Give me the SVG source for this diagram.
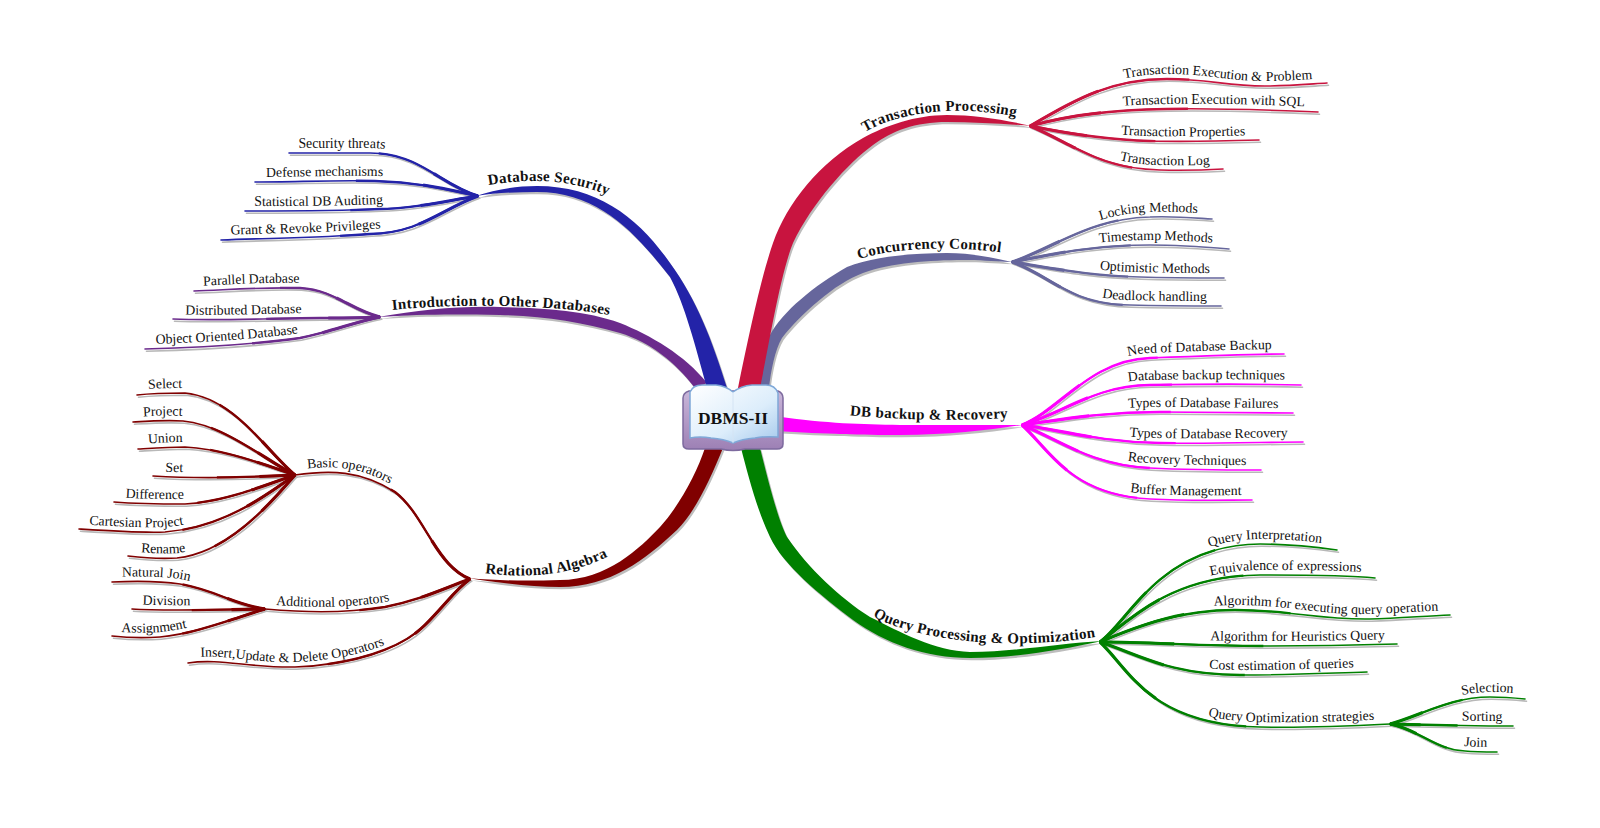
<svg xmlns="http://www.w3.org/2000/svg" width="1600" height="828" viewBox="0 0 1600 828">
<style>
text{font-family:"Liberation Serif","Times New Roman",serif;fill:#111}
.s{font-size:13.8px}
.m{font-size:15px;font-weight:bold;letter-spacing:.3px}
.p{fill:none}
.w1{stroke-width:1.6;stroke-linecap:round}
.w2r{stroke-width:2.3;stroke-dasharray:55 45}
.w3r{stroke-width:3.1;stroke-dasharray:25 75}
.w2l{stroke-width:2.3;stroke-dasharray:55 45;stroke-dashoffset:-45}
.w3l{stroke-width:3.1;stroke-dasharray:25 75;stroke-dashoffset:-75}
</style>
<defs>
<linearGradient id="pg" x1="0" y1="0" x2="1" y2="1"><stop offset="0" stop-color="#ffffff"/><stop offset=".6" stop-color="#dcedfb"/><stop offset="1" stop-color="#a6c9ec"/></linearGradient>
<linearGradient id="cv" x1="0" y1="0" x2="0" y2="1"><stop offset="0" stop-color="#c9b6d9"/><stop offset="1" stop-color="#9c7fb4"/></linearGradient>
<path id="m1" d="M738 388C752 320 762 275 773 243C787 203 820 162 863 138C885 126 915 115 947 115C975 115 1005 120 1032 126C1005 124 975 122 947 122C915 122 892 131 873 145C848 163 812 203 793 243C780 275 768 350 760 388Z"/>
<path id="m2" d="M727 388C712 340 697 300 670 263C640 220 600 186 537 186C515 186 495 190 476 196C495 193 515 192 537 192C600 192 637 235 670 277C685 305 695 345 707 388Z"/>
<path id="m3" d="M707 383C685 355 650 335 620 323C585 310 540 308 500 307C455 306 420 310 378 317C420 314 455 314 500 315C545 316 580 322 620 333C650 342 675 362 695 388Z"/>
<path id="m4" d="M758 388C760 370 762 352 770 335C782 312 815 285 847 267C875 256 915 253 947 253C970 253 990 257 1012 262C990 261 980 260 963 260C930 260 890 263 863 273C835 283 800 315 782 338C775 350 771 370 769 388Z"/>
<path id="m5" d="M775 416C830 424 860 424 900 425C950 425 990 425 1022 425C990 430 950 435 900 435C860 435 830 434 775 431Z"/>
<path id="m6" d="M741 448C748 475 757 510 770 537C783 565 820 595 853 620C885 643 925 658 970 658C1015 658 1060 650 1102 641C1060 643 1015 652 970 652C935 651 900 632 870 617C840 598 808 568 787 537C778 520 768 480 760 448Z"/>
<path id="m7" d="M705 448C697 472 680 505 660 527C640 548 607 580 560 580C530 581 500 581 468 578C500 583 530 587 560 587C610 587 645 560 677 530C695 512 710 480 723 448Z"/>
<g id="bRed">
<path id="t1" pathLength="100" d="M1030 126C1075 100 1110 79 1167 79C1210 79 1225 86 1265 86C1290 86 1310 84 1327 83"/>
<path id="t2" pathLength="100" d="M1030 126C1070 115 1110 110 1167 109C1220 108 1270 110 1318 112"/>
<path id="t3" pathLength="100" d="M1030 126C1075 135 1110 140 1150 141C1185 142 1225 141 1259 140"/>
<path id="t4" pathLength="100" d="M1030 126C1075 145 1100 169 1160 170C1185 170.500 1205 170 1223 169"/>
</g>
<g id="bSlate">
<path id="c1" pathLength="100" d="M1012 262C1050 250 1090 218 1150 217C1175 216 1195 218 1212 219"/>
<path id="c2" pathLength="100" d="M1012 262C1050 255 1090 245 1150 245C1180 245 1205 247 1229 249"/>
<path id="c3" pathLength="100" d="M1012 262C1050 268 1090 276 1140 277C1170 278 1200 278 1224 278"/>
<path id="c4" pathLength="100" d="M1012 262C1050 275 1070 305 1130 305C1165 306 1195 306 1221 306"/>
</g>
<g id="bMag">
<path id="d1" pathLength="100" d="M1022 425C1060 410 1090 360 1150 358C1200 356 1250 354 1284 354"/>
<path id="d2" pathLength="100" d="M1022 425C1060 415 1095 385 1150 385C1200 384 1260 384 1301 385"/>
<path id="d3" pathLength="100" d="M1022 425C1060 420 1100 412 1160 412C1210 412 1260 413 1293 413"/>
<path id="d4" pathLength="100" d="M1022 425C1060 430 1100 442 1160 443C1210 444 1270 442 1303 442"/>
<path id="d5" pathLength="100" d="M1022 425C1060 440 1090 465 1150 468C1190 470 1230 470 1261 470"/>
<path id="d6" pathLength="100" d="M1022 425C1050 450 1070 495 1150 499C1190 501 1225 500 1252 500"/>
</g>
<g id="bGreen">
<path id="q1" pathLength="100" d="M1100 642C1130 620 1160 545 1260 544C1290 544 1315 547 1337 550"/>
<path id="q2" pathLength="100" d="M1100 642C1130 620 1170 576 1260 575C1300 575 1345 575 1375 578"/>
<path id="q3" pathLength="100" d="M1100 642C1140 625 1180 610 1235 610C1290 610 1320 620 1370 619C1400 618 1425 616 1450 615"/>
<path id="q4" pathLength="100" d="M1100 642C1150 642 1200 646 1260 646C1310 646 1360 645 1397 644"/>
<path id="q5" pathLength="100" d="M1100 642C1140 655 1170 675 1240 675C1290 675 1330 673 1367 672"/>
<path id="q6" pathLength="100" d="M1100 642C1130 670 1150 725 1260 727C1300 728 1350 726 1390 724"/>
<path id="s1" pathLength="100" d="M1390 724C1420 716 1450 697 1490 697C1505 697 1515 698 1525 699"/>
<path id="s2" pathLength="100" d="M1390 724C1430 725 1470 726 1513 726"/>
<path id="s3" pathLength="100" d="M1390 724C1420 730 1435 750 1465 751C1475 752 1487 752 1497 752"/>
</g>
<g id="bBlue">
<path id="e1" pathLength="100" d="M289 153C315 153 340 153 370 153C420 153 440 185 478 196"/>
<path id="e2" pathLength="100" d="M255 182C295 182 335 180 375 181C420 182 450 190 478 196"/>
<path id="e3" pathLength="100" d="M245 211C290 211 335 211 380 209C420 208 450 200 478 196"/>
<path id="e4" pathLength="100" d="M221 240C270 238 320 238 370 234C420 233 440 210 478 196"/>
</g>
<g id="bPurple">
<path id="i1" pathLength="100" d="M194 291C225 290 260 287 300 288C335 290 350 310 380 317"/>
<path id="i2" pathLength="100" d="M173 319C220 321 280 318 320 318C345 318 360 318 380 317"/>
<path id="i3" pathLength="100" d="M145 349C190 348 250 345 300 338C330 332 355 322 380 317"/>
</g>
<g id="bDark">
<path id="r1" pathLength="100" d="M295 475C330 470 360 470 395 492C425 515 435 565 470 579"/>
<path id="r2" pathLength="100" d="M265 609C300 612 340 614 385 607C420 600 440 590 470 579"/>
<path id="r3" pathLength="100" d="M188 663C220 658 250 668 295 667C350 665 400 650 425 625C445 605 455 590 470 579"/>
<path id="a1" pathLength="100" d="M137 395C155 393 170 393 185 393C235 398 265 450 295 475"/>
<path id="a2" pathLength="100" d="M133 422C150 421 165 420 183 421C225 425 265 460 295 475"/>
<path id="a3" pathLength="100" d="M138 449C155 448 170 447 185 447C225 449 265 465 295 475"/>
<path id="a4" pathLength="100" d="M153 476C185 478 240 478 295 475"/>
<path id="a5" pathLength="100" d="M114 502C140 504 160 504 185 504C225 502 265 485 295 475"/>
<path id="a6" pathLength="100" d="M79 529C110 531 140 533 165 532C220 528 260 500 295 475"/>
<path id="a7" pathLength="100" d="M128 556C145 558 160 559 177 558C225 553 265 510 295 475"/>
<path id="b1" pathLength="100" d="M112 582C135 581 160 581 180 584C215 590 235 605 265 609"/>
<path id="b2" pathLength="100" d="M132 609C160 611 210 610 265 609"/>
<path id="b3" pathLength="100" d="M112 636C130 638 145 638 160 637C195 634 235 618 265 609"/>
</g>
<path id="lm1" d="M860 135C890 115 950 102 1022 118"/>
<path id="lm2" d="M484 186C525 178 570 178 612 197"/>
<path id="lm3" d="M392 310C450 304 540 303 610 315"/>
<path id="lm4" d="M855 261C885 248 950 245 1005 253"/>
<path id="lm5" d="M848 415C900 420 960 421 1010 418"/>
<path id="lm6" d="M873 616C910 638 1000 652 1096 637"/>
<path id="lm7" d="M484 573C530 579 570 575 609 556"/>
</defs>

<g id="connectors">
<g id="shadows" transform="translate(1.500 2.200)">
<g fill="#bdbdbd"><use href="#m1"/><use href="#m2"/><use href="#m3"/><use href="#m4"/><use href="#m5"/><use href="#m6"/><use href="#m7"/></g>
<g class="p w1" stroke="#b8b8b8"><use href="#bRed"/><use href="#bSlate"/><use href="#bMag"/><use href="#bGreen"/><use href="#bBlue"/><use href="#bPurple"/><use href="#bDark"/></g>
</g>
<g class="p" stroke="#c8143f"><use href="#bRed" class="w1"/><use href="#bRed" class="w2r"/><use href="#bRed" class="w3r"/></g>
<g class="p" stroke="#66669c"><use href="#bSlate" class="w1"/><use href="#bSlate" class="w2r"/><use href="#bSlate" class="w3r"/></g>
<g class="p" stroke="#ff00ff"><use href="#bMag" class="w1"/><use href="#bMag" class="w2r"/><use href="#bMag" class="w3r"/></g>
<g class="p" stroke="#008000"><use href="#bGreen" class="w1"/><use href="#bGreen" class="w2r"/><use href="#bGreen" class="w3r"/></g>
<g class="p" stroke="#2323a8"><use href="#bBlue" class="w1"/><use href="#bBlue" class="w2l"/><use href="#bBlue" class="w3l"/></g>
<g class="p" stroke="#6b2a8c"><use href="#bPurple" class="w1"/><use href="#bPurple" class="w2l"/><use href="#bPurple" class="w3l"/></g>
<g class="p" stroke="#800000"><use href="#bDark" class="w1"/><use href="#bDark" class="w2l"/><use href="#bDark" class="w3l"/></g>
<use href="#m3" fill="#6b2a8c"/>
<use href="#m2" fill="#2323a8"/>
<use href="#m4" fill="#66669c"/>
<use href="#m1" fill="#c8143f"/>
<use href="#m5" fill="#ff00ff"/>
<use href="#m6" fill="#008000"/>
<use href="#m7" fill="#800000"/>
</g>

<g id="n-root">
<path d="M683 398Q683 393 689 391L778 391Q783 393 783 398L783 444Q783 449 777 449L745 449Q733 452 721 449L689 449Q683 449 683 444Z" fill="url(#cv)" stroke="#7d6a9e" stroke-width="1.500"/>
<path d="M690 392Q693 385 702 385L716 385Q726 386 733 392Q741 386 752 385L766 385Q775 385 778 393L778 437Q765 436 755 438Q742 439 733 443Q724 439 711 438Q700 436 690 438Z" fill="url(#pg)" stroke="#7fa8d8" stroke-width="1.500"/>
<path d="M733 392L733 443" stroke="#d4e4f4" stroke-width="1"/>
<text x="733" y="424" text-anchor="middle" style="font-size:17.500px;font-weight:bold">DBMS-II</text>
</g>

<g id="n-transaction"><text class="m" text-anchor="middle"><textPath href="#lm1" startOffset="50%">Transaction Processing</textPath></text></g>
<g id="n-security"><text class="m" text-anchor="middle"><textPath href="#lm2" startOffset="50%">Database Security</textPath></text></g>
<g id="n-intro"><text class="m" text-anchor="middle"><textPath href="#lm3" startOffset="50%">Introduction to Other Databases</textPath></text></g>
<g id="n-concurrency"><text class="m" text-anchor="middle"><textPath href="#lm4" startOffset="50%">Concurrency Control</textPath></text></g>
<g id="n-backup"><text class="m" text-anchor="middle"><textPath href="#lm5" startOffset="50%">DB backup &amp; Recovery</textPath></text></g>
<g id="n-query"><text class="m" text-anchor="middle"><textPath href="#lm6" startOffset="50%">Query Processing &amp; Optimization</textPath></text></g>
<g id="n-relational"><text class="m" text-anchor="middle"><textPath href="#lm7" startOffset="50%">Relational Algebra</textPath></text></g>

<g class="s" text-anchor="middle">
<g id="n-t1"><text transform="translate(0 -5)"><textPath href="#t1" startOffset="64.500%">Transaction Execution &amp; Problem</textPath></text></g>
<g id="n-t2"><text transform="translate(0 -5)"><textPath href="#t2" startOffset="64%">Transaction Execution with SQL</textPath></text></g>
<g id="n-t3"><text transform="translate(0 -5)"><textPath href="#t3" startOffset="67%">Transaction Properties</textPath></text></g>
<g id="n-t4"><text transform="translate(0 -5)"><textPath href="#t4" startOffset="71%">Transaction Log</textPath></text></g>
<g id="n-c1"><text transform="translate(0 -5)"><textPath href="#c1" startOffset="69.500%">Locking Methods</textPath></text></g>
<g id="n-c2"><text transform="translate(0 -5)"><textPath href="#c2" startOffset="66.500%">Timestamp Methods</textPath></text></g>
<g id="n-c3"><text transform="translate(0 -5)"><textPath href="#c3" startOffset="67.500%">Optimistic Methods</textPath></text></g>
<g id="n-c4"><text transform="translate(0 -5)"><textPath href="#c4" startOffset="69.500%">Deadlock handling</textPath></text></g>
<g id="n-d1"><text transform="translate(0 -5)"><textPath href="#d1" startOffset="70%">Need of Database Backup</textPath></text></g>
<g id="n-d2"><text transform="translate(0 -5)"><textPath href="#d2" startOffset="67%">Database backup techniques</textPath></text></g>
<g id="n-d3"><text transform="translate(0 -5)"><textPath href="#d3" startOffset="67%">Types of Database Failures</textPath></text></g>
<g id="n-d4"><text transform="translate(0 -5)"><textPath href="#d4" startOffset="66.500%">Types of Database Recovery</textPath></text></g>
<g id="n-d5"><text transform="translate(0 -5)"><textPath href="#d5" startOffset="70%">Recovery Techniques</textPath></text></g>
<g id="n-d6"><text transform="translate(0 -5)"><textPath href="#d6" startOffset="74%">Buffer Management</textPath></text></g>
<g id="n-q1"><text transform="translate(0 -5)"><textPath href="#q1" startOffset="73.500%">Query Interpretation</textPath></text></g>
<g id="n-q2"><text transform="translate(0 -5)"><textPath href="#q2" startOffset="69.500%">Equivalence of expressions</textPath></text></g>
<g id="n-q3"><text transform="translate(0 -5)"><textPath href="#q3" startOffset="65%">Algorithm for executing query operation</textPath></text></g>
<g id="n-q4"><text transform="translate(0 -5)"><textPath href="#q4" startOffset="66.500%">Algorithm for Heuristics Query</textPath></text></g>
<g id="n-q5"><text transform="translate(0 -5)"><textPath href="#q5" startOffset="68.500%">Cost estimation of queries</textPath></text></g>
<g id="n-q6"><text transform="translate(0 -5)"><textPath href="#q6" startOffset="69%">Query Optimization strategies</textPath></text></g>
<g id="n-s1"><text transform="translate(0 -5)"><textPath href="#s1" startOffset="73%">Selection</textPath></text></g>
<g id="n-s2"><text transform="translate(0 -5)"><textPath href="#s2" startOffset="75%">Sorting</textPath></text></g>
<g id="n-s3"><text transform="translate(0 -5)"><textPath href="#s3" startOffset="81%">Join</textPath></text></g>
<g id="n-e1"><text transform="translate(0 -5)"><textPath href="#e1" startOffset="26.500%">Security threats</textPath></text></g>
<g id="n-e2"><text transform="translate(0 -5)"><textPath href="#e2" startOffset="31%">Defense mechanisms</textPath></text></g>
<g id="n-e3"><text transform="translate(0 -5)"><textPath href="#e3" startOffset="31.500%">Statistical DB Auditing</textPath></text></g>
<g id="n-e4"><text transform="translate(0 -5)"><textPath href="#e4" startOffset="32%">Grant &amp; Revoke Privileges</textPath></text></g>
<g id="n-i1"><text transform="translate(0 -5)"><textPath href="#i1" startOffset="30%">Parallel Database</textPath></text></g>
<g id="n-i2"><text transform="translate(0 -5)"><textPath href="#i2" startOffset="34%">Distributed Database</textPath></text></g>
<g id="n-i3"><text transform="translate(0 -5)"><textPath href="#i3" startOffset="34.500%">Object Oriented Database</textPath></text></g>
<g id="n-r1"><text transform="translate(0 -5)"><textPath href="#r1" startOffset="25%">Basic operators</textPath></text></g>
<g id="n-r2"><text transform="translate(0 -5)"><textPath href="#r2" startOffset="32.500%">Additional operators</textPath></text></g>
<g id="n-r3"><text transform="translate(0 -5)"><textPath href="#r3" startOffset="34%">Insert,Update &amp; Delete Operators</textPath></text></g>
<g id="n-a1"><text transform="translate(0 -5)"><textPath href="#a1" startOffset="15%">Select</textPath></text></g>
<g id="n-a2"><text transform="translate(0 -5)"><textPath href="#a2" startOffset="17%">Project</textPath></text></g>
<g id="n-a3"><text transform="translate(0 -5)"><textPath href="#a3" startOffset="17%">Union</textPath></text></g>
<g id="n-a4"><text transform="translate(0 -5)"><textPath href="#a4" startOffset="15%">Set</textPath></text></g>
<g id="n-a5"><text transform="translate(0 -5)"><textPath href="#a5" startOffset="22%">Difference</textPath></text></g>
<g id="n-a6"><text transform="translate(0 -5)"><textPath href="#a6" startOffset="25%">Cartesian Project</textPath></text></g>
<g id="n-a7"><text transform="translate(0 -5)"><textPath href="#a7" startOffset="18%">Rename</textPath></text></g>
<g id="n-b1"><text transform="translate(0 -5)"><textPath href="#b1" startOffset="28%">Natural Join</textPath></text></g>
<g id="n-b2"><text transform="translate(0 -5)"><textPath href="#b2" startOffset="26%">Division</textPath></text></g>
<g id="n-b3"><text transform="translate(0 -5)"><textPath href="#b3" startOffset="27%">Assignment</textPath></text></g>
</g>
</svg>
